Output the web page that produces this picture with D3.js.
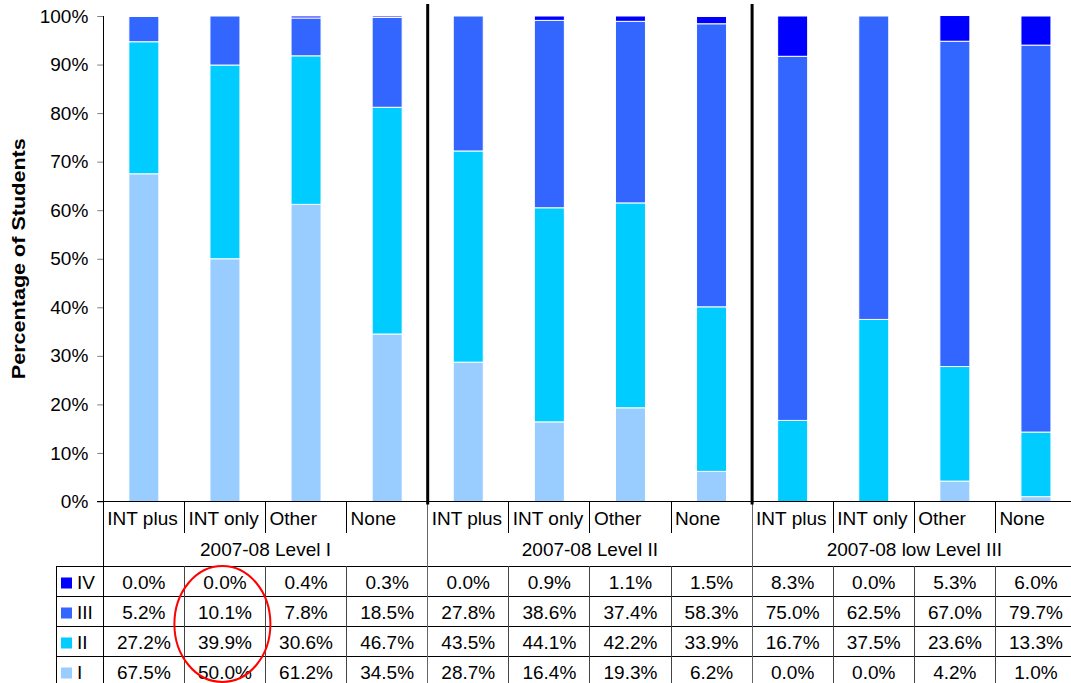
<!DOCTYPE html>
<html>
    <head>
        <meta charset="utf-8" />
        <title>Percentage of Students by Level</title>
        <script src="https://d3js.org/d3.v7.min.js"></script>
        <style>
            body { margin: 0; background-color: white; }
            text { font-family: "Liberation Sans", Arial, sans-serif; }
        </style>
    </head>
    <body>
        <svg width="1071" height="683" id="chart"></svg>

        <script>
            // categories and groups
            var groups = ["2007-08 Level I", "2007-08 Level II", "2007-08 low Level III"];
            var programs = ["INT plus", "INT only", "Other", "None"];

            // percent of students per level, 12 bars (4 programs x 3 groups)
            var levelI   = [67.5, 50.0, 61.2, 34.5, 28.7, 16.4, 19.3, 6.2, 0.0, 0.0, 4.2, 1.0];
            var levelII  = [27.2, 39.9, 30.6, 46.7, 43.5, 44.1, 42.2, 33.9, 16.7, 37.5, 23.6, 13.3];
            var levelIII = [5.2, 10.1, 7.8, 18.5, 27.8, 38.6, 37.4, 58.3, 75.0, 62.5, 67.0, 79.7];
            var levelIV  = [0.0, 0.0, 0.4, 0.3, 0.0, 0.9, 1.1, 1.5, 8.3, 0.0, 5.3, 6.0];

            var levelNames = ["I", "II", "III", "IV"];
            var yTicks = [0, 10, 20, 30, 40, 50, 60, 70, 80, 90, 100];

            var colors = { "I": "#99CCFF", "II": "#00CCFF", "III": "#3366FF", "IV": "#0000FF" };

            // build rows for d3.stack
            var rows = [];
            groups.forEach(function(g, gi) {
                programs.forEach(function(p, pi) {
                    var i = gi * 4 + pi;
                    rows.push({
                        key: gi + "-" + pi, group: g, program: p,
                        "I": levelI[i], "II": levelII[i], "III": levelIII[i], "IV": levelIV[i]
                    });
                });
            });

            var svg = d3.select("#chart");

            // note: "top" is taken by window.top, so plotTop etc.
            var plotLeft = 103.3, plotRight = 103.3 + 12 * 81.1;
            var plotTop = 16, plotBase = 501.5;

            // slot scale (table columns) and bar scale
            var slot = d3.scaleBand().domain(rows.map(function(d) { return d.key; }))
                .range([plotLeft, plotRight]).padding(0);
            var x = d3.scaleBand().domain(rows.map(function(d) { return d.key; }))
                .range([plotLeft, plotRight]).paddingInner(0.63).paddingOuter(0.315);
            var y = d3.scaleLinear().domain([0, 100]).range([plotBase, plotTop]);

            // stacked bars
            var stacked = d3.stack().keys(levelNames)(rows);

            svg.append("g").selectAll("g")
                .data(stacked)
                .join("g")
                .attr("fill", function(s) { return colors[s.key]; })
                .selectAll("rect")
                .data(function(s) { return s; })
                .join("rect")
                .attr("x", function(d) { return x(d.data.key); })
                .attr("width", x.bandwidth())
                .attr("y", function(d) { return y(d[1]); })
                .attr("height", function(d) { return Math.max(0, y(d[0]) - y(d[1])); })
                .attr("stroke", "#fff")
                .attr("stroke-width", 1);

            // y axis
            var yAxis = svg.append("g")
                .attr("transform", "translate(" + plotLeft + ",0)")
                .call(d3.axisLeft(y).tickValues(yTicks).tickSize(6).tickPadding(9)
                    .tickFormat(function(d) { return d + "%"; }));
            yAxis.select(".domain").remove();
            yAxis.selectAll(".tick line").attr("stroke", "#808080");
            yAxis.selectAll(".tick text")
                .attr("font-family", "Liberation Sans, Arial, sans-serif")
                .attr("font-size", "19px")
                .attr("fill", "#000");

            svg.append("text")
                .attr("transform", "translate(25," + ((plotTop + plotBase) / 2) + ") rotate(-90)")
                .attr("text-anchor", "middle")
                .attr("font-size", "18px")
                .attr("font-weight", "bold")
                .attr("textLength", 241)
                .attr("lengthAdjust", "spacingAndGlyphs")
                .text("Percentage of Students");

            // ---- data table under the chart ----
            var row1 = 502, row2 = 533, tTop = 566, rowH = 30;
            var tLeft = 56;
            var tBottom = tTop + rowH * 4;
            var grid = svg.append("g").attr("stroke-width", 1).attr("shape-rendering", "crispEdges");

            // horizontal lines
            grid.append("line").attr("x1", plotLeft - 6).attr("x2", plotRight).attr("y1", plotBase).attr("y2", plotBase).attr("stroke", "#000");
            for (var r = 0; r < 4; r++) {
                grid.append("line").attr("x1", tLeft).attr("x2", plotRight)
                    .attr("y1", tTop + r * rowH).attr("y2", tTop + r * rowH).attr("stroke", "#000");
            }
            // axis / table left lines
            grid.append("line").attr("x1", plotLeft).attr("x2", plotLeft).attr("y1", plotTop).attr("y2", tBottom).attr("stroke", "#000");
            grid.append("line").attr("x1", tLeft).attr("x2", tLeft).attr("y1", tTop).attr("y2", tBottom).attr("stroke", "#000");

            // vertical lines per slot
            rows.forEach(function(d, i) {
                if (i == 0) return;
                var xx = slot(d.key);
                var isGroup = (i % 4 == 0);
                grid.append("line").attr("x1", xx).attr("x2", xx)
                    .attr("y1", isGroup ? plotBase : row1).attr("y2", isGroup ? tBottom : row2)
                    .attr("stroke", isGroup ? "#666" : "#000");
                if (!isGroup) {
                    grid.append("line").attr("x1", xx).attr("x2", xx)
                        .attr("y1", tTop).attr("y2", tBottom).attr("stroke", "#444");
                }
            });

            // thick group separators in plot
            [4, 8].forEach(function(i) {
                var xx = slot(rows[i].key);
                svg.append("line").attr("x1", xx).attr("x2", xx)
                    .attr("y1", 4).attr("y2", plotBase + 3)
                    .attr("stroke", "#000").attr("stroke-width", 3);
            });

            // program labels
            svg.append("g").selectAll("text")
                .data(rows)
                .join("text")
                .attr("x", function(d) { return slot(d.key) + 4; })
                .attr("y", 524.5)
                .attr("font-size", "19px")
                .text(function(d) { return d.program; });

            // group labels
            svg.append("g").selectAll("text")
                .data(groups)
                .join("text")
                .attr("x", function(g, gi) { return slot(gi + "-0") + slot.step() * 2; })
                .attr("y", 556)
                .attr("text-anchor", "middle")
                .attr("font-size", "19px")
                .text(function(g) { return g; });

            // value rows, top row is IV
            var tableRows = [
                { name: "IV", values: levelIV },
                { name: "III", values: levelIII },
                { name: "II", values: levelII },
                { name: "I", values: levelI }
            ];

            tableRows.forEach(function(tr, r) {
                var ry = tTop + r * rowH;
                svg.append("rect")
                    .attr("x", 61).attr("y", ry + 11.5)
                    .attr("width", 11).attr("height", 11)
                    .attr("fill", colors[tr.name]);
                svg.append("text")
                    .attr("x", 77).attr("y", ry + 22.5)
                    .attr("font-size", "19px")
                    .text(tr.name);
                svg.append("g").selectAll("text")
                    .data(tr.values)
                    .join("text")
                    .attr("x", function(v, i) { return slot(rows[i].key) + slot.step() / 2; })
                    .attr("y", ry + 22.5)
                    .attr("text-anchor", "middle")
                    .attr("font-size", "19px")
                    .text(function(v) { return v.toFixed(1) + "%"; });
            });

            // red ellipse highlighting INT only, Level I
            svg.append("ellipse")
                .attr("cx", slot("0-1") + 38).attr("cy", 624)
                .attr("rx", 48).attr("ry", 58)
                .attr("fill", "none")
                .attr("stroke", "#FF0000")
                .attr("stroke-width", 2);
        </script>
    </body>
</html>
